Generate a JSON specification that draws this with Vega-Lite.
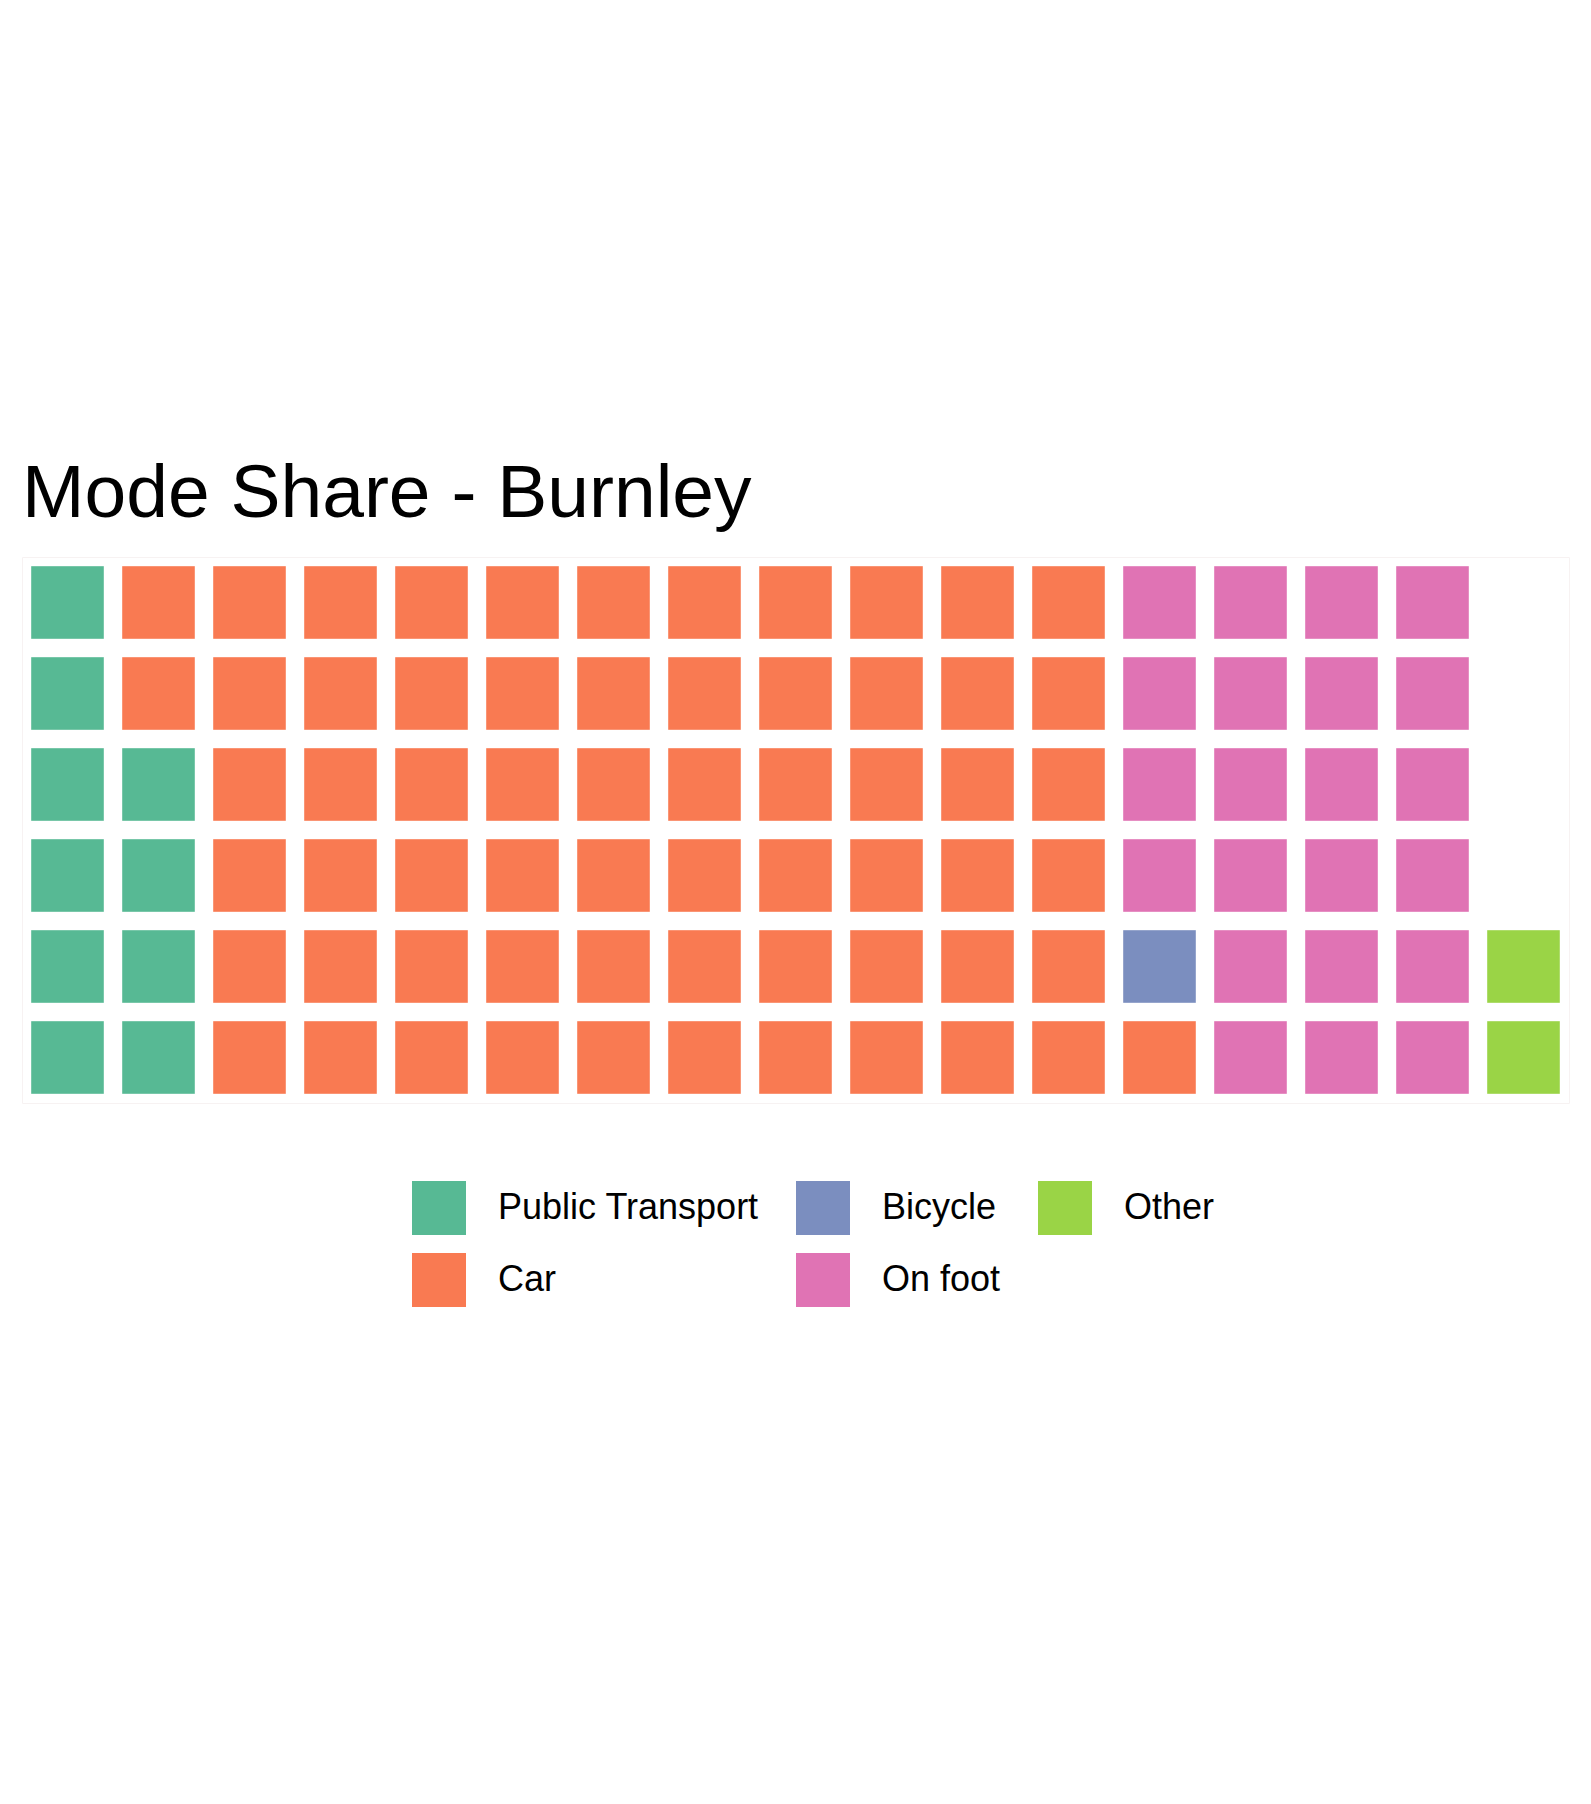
{
  "$schema": "https://vega.github.io/schema/vega-lite/v6.json",
  "width": 1547,
  "height": 546,
  "autosize": {"type": "none"},
  "padding": {"left": 22, "top": 557, "right": 22, "bottom": 701},
  "background": "white",
  "title": {
    "text": "Mode Share - Burnley",
    "anchor": "start",
    "frame": "group",
    "font": "Liberation Sans",
    "fontSize": 75,
    "fontWeight": "normal",
    "color": "black",
    "baseline": "alphabetic",
    "offset": -35
  },
  "config": {
    "view": {"stroke": "#f7f2f2", "strokeWidth": 1}
  },
  "data": {
    "values": [
      {"col": 1, "row": 1, "mode": "Public Transport"},
      {"col": 1, "row": 2, "mode": "Public Transport"},
      {"col": 1, "row": 3, "mode": "Public Transport"},
      {"col": 1, "row": 4, "mode": "Public Transport"},
      {"col": 1, "row": 5, "mode": "Public Transport"},
      {"col": 1, "row": 6, "mode": "Public Transport"},
      {"col": 2, "row": 1, "mode": "Car"},
      {"col": 2, "row": 2, "mode": "Car"},
      {"col": 2, "row": 3, "mode": "Public Transport"},
      {"col": 2, "row": 4, "mode": "Public Transport"},
      {"col": 2, "row": 5, "mode": "Public Transport"},
      {"col": 2, "row": 6, "mode": "Public Transport"},
      {"col": 3, "row": 1, "mode": "Car"},
      {"col": 3, "row": 2, "mode": "Car"},
      {"col": 3, "row": 3, "mode": "Car"},
      {"col": 3, "row": 4, "mode": "Car"},
      {"col": 3, "row": 5, "mode": "Car"},
      {"col": 3, "row": 6, "mode": "Car"},
      {"col": 4, "row": 1, "mode": "Car"},
      {"col": 4, "row": 2, "mode": "Car"},
      {"col": 4, "row": 3, "mode": "Car"},
      {"col": 4, "row": 4, "mode": "Car"},
      {"col": 4, "row": 5, "mode": "Car"},
      {"col": 4, "row": 6, "mode": "Car"},
      {"col": 5, "row": 1, "mode": "Car"},
      {"col": 5, "row": 2, "mode": "Car"},
      {"col": 5, "row": 3, "mode": "Car"},
      {"col": 5, "row": 4, "mode": "Car"},
      {"col": 5, "row": 5, "mode": "Car"},
      {"col": 5, "row": 6, "mode": "Car"},
      {"col": 6, "row": 1, "mode": "Car"},
      {"col": 6, "row": 2, "mode": "Car"},
      {"col": 6, "row": 3, "mode": "Car"},
      {"col": 6, "row": 4, "mode": "Car"},
      {"col": 6, "row": 5, "mode": "Car"},
      {"col": 6, "row": 6, "mode": "Car"},
      {"col": 7, "row": 1, "mode": "Car"},
      {"col": 7, "row": 2, "mode": "Car"},
      {"col": 7, "row": 3, "mode": "Car"},
      {"col": 7, "row": 4, "mode": "Car"},
      {"col": 7, "row": 5, "mode": "Car"},
      {"col": 7, "row": 6, "mode": "Car"},
      {"col": 8, "row": 1, "mode": "Car"},
      {"col": 8, "row": 2, "mode": "Car"},
      {"col": 8, "row": 3, "mode": "Car"},
      {"col": 8, "row": 4, "mode": "Car"},
      {"col": 8, "row": 5, "mode": "Car"},
      {"col": 8, "row": 6, "mode": "Car"},
      {"col": 9, "row": 1, "mode": "Car"},
      {"col": 9, "row": 2, "mode": "Car"},
      {"col": 9, "row": 3, "mode": "Car"},
      {"col": 9, "row": 4, "mode": "Car"},
      {"col": 9, "row": 5, "mode": "Car"},
      {"col": 9, "row": 6, "mode": "Car"},
      {"col": 10, "row": 1, "mode": "Car"},
      {"col": 10, "row": 2, "mode": "Car"},
      {"col": 10, "row": 3, "mode": "Car"},
      {"col": 10, "row": 4, "mode": "Car"},
      {"col": 10, "row": 5, "mode": "Car"},
      {"col": 10, "row": 6, "mode": "Car"},
      {"col": 11, "row": 1, "mode": "Car"},
      {"col": 11, "row": 2, "mode": "Car"},
      {"col": 11, "row": 3, "mode": "Car"},
      {"col": 11, "row": 4, "mode": "Car"},
      {"col": 11, "row": 5, "mode": "Car"},
      {"col": 11, "row": 6, "mode": "Car"},
      {"col": 12, "row": 1, "mode": "Car"},
      {"col": 12, "row": 2, "mode": "Car"},
      {"col": 12, "row": 3, "mode": "Car"},
      {"col": 12, "row": 4, "mode": "Car"},
      {"col": 12, "row": 5, "mode": "Car"},
      {"col": 12, "row": 6, "mode": "Car"},
      {"col": 13, "row": 1, "mode": "On foot"},
      {"col": 13, "row": 2, "mode": "On foot"},
      {"col": 13, "row": 3, "mode": "On foot"},
      {"col": 13, "row": 4, "mode": "On foot"},
      {"col": 13, "row": 5, "mode": "Bicycle"},
      {"col": 13, "row": 6, "mode": "Car"},
      {"col": 14, "row": 1, "mode": "On foot"},
      {"col": 14, "row": 2, "mode": "On foot"},
      {"col": 14, "row": 3, "mode": "On foot"},
      {"col": 14, "row": 4, "mode": "On foot"},
      {"col": 14, "row": 5, "mode": "On foot"},
      {"col": 14, "row": 6, "mode": "On foot"},
      {"col": 15, "row": 1, "mode": "On foot"},
      {"col": 15, "row": 2, "mode": "On foot"},
      {"col": 15, "row": 3, "mode": "On foot"},
      {"col": 15, "row": 4, "mode": "On foot"},
      {"col": 15, "row": 5, "mode": "On foot"},
      {"col": 15, "row": 6, "mode": "On foot"},
      {"col": 16, "row": 1, "mode": "On foot"},
      {"col": 16, "row": 2, "mode": "On foot"},
      {"col": 16, "row": 3, "mode": "On foot"},
      {"col": 16, "row": 4, "mode": "On foot"},
      {"col": 16, "row": 5, "mode": "On foot"},
      {"col": 16, "row": 6, "mode": "On foot"},
      {"col": 17, "row": 5, "mode": "Other"},
      {"col": 17, "row": 6, "mode": "Other"}
    ]
  },
  "mark": {"type": "rect", "stroke": "white", "strokeOpacity": 0.4, "strokeWidth": 1},
  "encoding": {
    "x": {
      "field": "col",
      "type": "ordinal",
      "axis": null,
      "scale": {"paddingInner": 0.198, "paddingOuter": 0.099}
    },
    "y": {
      "field": "row",
      "type": "ordinal",
      "axis": null,
      "scale": {"paddingInner": 0.198, "paddingOuter": 0.099}
    },
    "color": {
      "field": "mode",
      "type": "nominal",
      "scale": {
        "domain": ["Public Transport", "Bicycle", "Other", "Car", "On foot"],
        "range": ["#57b994", "#7b8ebf", "#9ad446", "#f97a52", "#e073b4"]
      },
      "legend": {
        "title": null,
        "orient": "none",
        "legendX": 390,
        "legendY": 624,
        "direction": "horizontal",
        "columns": 3,
        "padding": 0,
        "symbolType": "square",
        "symbolSize": 2916,
        "symbolStrokeWidth": 0,
        "symbolOpacity": 1,
        "labelFont": "Liberation Sans",
        "labelFontSize": 36,
        "labelColor": "black",
        "labelLimit": 500,
        "labelOffset": 32,
        "columnPadding": 37,
        "rowPadding": 18
      }
    }
  }
}
